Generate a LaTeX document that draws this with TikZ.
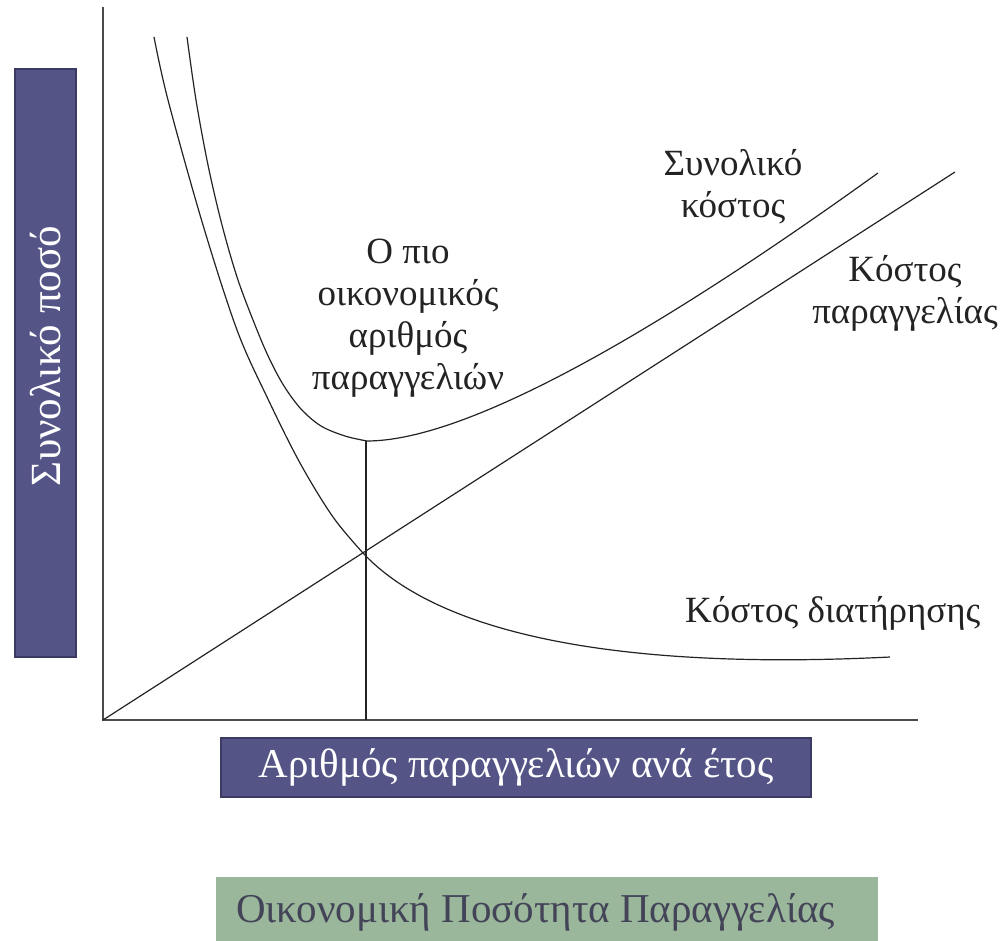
\documentclass[tikz,border=0pt]{standalone}
\usepackage{fontspec}
\setmainfont{Liberation Serif}
\definecolor{boxblue}{RGB}{84,84,135}
\definecolor{boxedge}{RGB}{58,58,98}
\definecolor{boxgreen}{RGB}{155,183,155}
\definecolor{greentext}{RGB}{68,68,88}
\definecolor{ink}{RGB}{35,35,35}
\definecolor{axisgrey}{RGB}{75,75,75}
\begin{document}
\begin{tikzpicture}[x=1pt,y=-1pt,
  curve/.style={draw=ink,line width=1.2pt},
  axisline/.style={draw=axisgrey,line width=1.8pt},
  bluebox/.style={fill=boxblue,draw=boxedge,line width=2pt,text=white,inner sep=0pt},
  plotlabel/.style={text=ink,align=center,inner sep=0pt,font=\fontsize{37}{42}\selectfont}]
\useasboundingbox (0,0) rectangle (1007,941);

% axes
\coordinate (top) at (103,7);
\coordinate (origin) at (103,720);
\coordinate (xend) at (918,720);
\draw[axisline] (top) -- (origin) -- (xend);

% axis title boxes
\node[bluebox,minimum width=61pt,minimum height=588pt] (ybox) at (45.5,363) {};
\node[text=white,inner sep=0pt,rotate=90] (ytitle) at (45.5,356)
  {\fontsize{43}{44}\selectfont Συνολικό ποσό};
\node[bluebox,minimum width=590pt,minimum height=59pt] (xbox) at (516,767.5)
  {\fontsize{41}{44}\selectfont Αριθμός παραγγελιών ανά έτος};
\node[fill=boxgreen,minimum width=662pt,minimum height=66pt,inner sep=0pt] (eoq) at (547,910) {};
\node[text=greentext,inner sep=0pt,anchor=west] (eoqtitle) at (236,912)
  {\fontsize{41}{44}\selectfont Οικονομική Ποσότητα Παραγγελίας};

% ordering cost: straight line from the origin
\coordinate (lineend) at (955,172);
\draw[curve] (origin) -- (lineend);

% holding cost: steep branch, then flattening tail
\draw[curve] plot[smooth,tension=0.55] coordinates {(154,37) (168,100) (203,225) (237,330) (267,397) (300,463) (333,517) (363,553)}
  .. controls (430,625) and (590,672) .. (890,657);

% total cost: falling branch, then rising branch
\draw[curve] plot[smooth,tension=0.55] coordinates {(187,37) (196,100) (208,165) (222,225) (238,280) (257,330) (270,360) (284,386) (301,409) (321,426) (345,436) (367,441)}
  .. controls (457,441) and (628,353) .. (878,173);

% optimum order quantity
\coordinate (minpt) at (366,441);
\coordinate (foot) at (366,720);
\draw[curve] (minpt) -- (foot);

% labels
\node[plotlabel] (opt) at (408,318) {Ο πιο\\οικονομικός\\αριθμός\\παραγγελιών};
\node[plotlabel] (tc) at (733,187) {Συνολικό\\κόστος};
\node[plotlabel] (oc) at (905,293) {Κόστος\\παραγγελίας};
\node[plotlabel,anchor=west] (hc) at (685,613) {Κόστος διατήρησης};
\end{tikzpicture}
\end{document}
